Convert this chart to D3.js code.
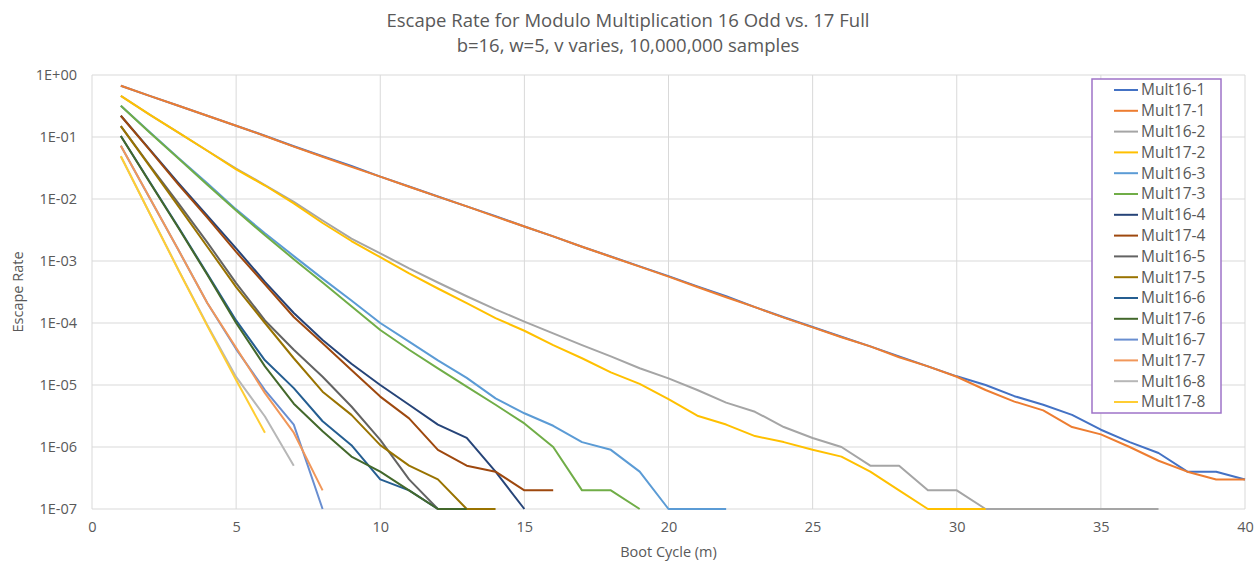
<!DOCTYPE html>
<html>
<head>
<meta charset="utf-8">
<script src="https://cdn.jsdelivr.net/npm/d3@7"></script>
<style>
  body { margin: 0; background: #fff; }
  text { font-family: "Open Sans", Lato, sans-serif; fill: #595959; }
  .grid line { stroke: #d9d9d9; stroke-width: 1; }
  .line { fill: none; stroke-width: 2; stroke-linejoin: round; }
</style>
</head>
<body>
<svg width="1255" height="563"></svg>
<script>
// boot cycle m starts at 1 for every series
var mult16_1 = [0.67, 0.46, 0.32, 0.22, 0.152, 0.105, 0.071, 0.049, 0.034, 0.023, 0.0159, 0.011, 0.0076, 0.0053, 0.0036,
  0.0025, 0.0017, 0.00118, 0.00082, 0.00057, 0.00039, 0.00027, 0.00018, 0.000124, 0.000086, 0.00006, 0.000042, 0.000029,
  0.00002, 0.0000138, 0.00001, 0.0000066, 0.0000048, 0.0000033, 0.0000019, 0.0000012, 0.0000008, 0.0000004, 0.0000004, 0.0000003];
var mult17_1 = [0.67, 0.46, 0.32, 0.22, 0.152, 0.104, 0.07, 0.048, 0.033, 0.023, 0.0158, 0.0109, 0.0076, 0.0052, 0.0036,
  0.0025, 0.0017, 0.00117, 0.00081, 0.00056, 0.00038, 0.00026, 0.00018, 0.000122, 0.000085, 0.000059, 0.000042, 0.000028,
  0.00002, 0.0000136, 0.0000083, 0.0000054, 0.0000039, 0.0000021, 0.0000016, 0.000001, 0.0000006, 0.0000004, 0.0000003, 0.0000003];
var mult16_2 = [0.46, 0.23, 0.118, 0.06, 0.031, 0.0168, 0.009, 0.0045, 0.0023, 0.00133, 0.00076, 0.00045, 0.00027, 0.000166,
  0.000105, 0.000068, 0.000044, 0.000029, 0.0000186, 0.0000128, 0.0000083, 0.0000052, 0.0000037, 0.0000021, 0.0000014,
  0.000001, 0.0000005, 0.0000005, 0.0000002, 0.0000002, 1e-7, 1e-7, 1e-7, 1e-7, 1e-7, 1e-7, 1e-7];
var mult17_2 = [0.46, 0.23, 0.118, 0.06, 0.03, 0.0165, 0.0085, 0.0041, 0.0021, 0.00115, 0.00063, 0.00036, 0.00021, 0.00012,
  0.000075, 0.000044, 0.000027, 0.000016, 0.0000104, 0.0000059, 0.0000032, 0.0000023, 0.0000015, 0.0000012, 0.0000009,
  0.0000007, 0.0000004, 0.0000002, 1e-7, 1e-7, 1e-7];
var mult16_3 = [0.32, 0.12, 0.046, 0.018, 0.0068, 0.0028, 0.0012, 0.00052, 0.00023, 0.0001, 0.00005, 0.000025, 0.000013,
  0.0000061, 0.0000035, 0.0000022, 0.0000012, 0.0000009, 0.0000004, 1e-7, 1e-7, 1e-7];
var mult17_3 = [0.32, 0.118, 0.045, 0.017, 0.0065, 0.0026, 0.00107, 0.00045, 0.000186, 0.000077, 0.000037, 0.0000186,
  0.0000094, 0.0000048, 0.0000024, 0.000001, 0.0000002, 0.0000002, 1e-7];
var mult16_4 = [0.22, 0.063, 0.018, 0.0054, 0.0016, 0.00046, 0.000145, 0.000053, 0.000022, 0.00001, 0.0000048, 0.0000023,
  0.0000014, 0.0000004, 1e-7];
var mult17_4 = [0.22, 0.062, 0.017, 0.005, 0.0014, 0.00042, 0.000125, 0.000047, 0.0000174, 0.0000065, 0.0000029, 0.0000009,
  0.0000005, 0.0000004, 0.0000002, 0.0000002];
var mult16_5 = [0.15, 0.035, 0.0085, 0.002, 0.00044, 0.00011, 0.000037, 0.0000136, 0.0000045, 0.0000013, 0.0000003, 1e-7];
var mult17_5 = [0.15, 0.034, 0.0076, 0.0017, 0.00038, 0.0001, 0.000027, 0.0000078, 0.0000033, 0.00000107, 0.0000005,
  0.0000003, 1e-7, 1e-7];
var mult16_6 = [0.104, 0.019, 0.0035, 0.00062, 0.00011, 0.000025, 0.0000089, 0.0000026, 0.00000107, 0.0000003, 0.0000002, 1e-7];
var mult17_6 = [0.104, 0.0186, 0.0034, 0.0006, 0.0001, 0.00002, 0.000005, 0.0000018, 0.0000007, 0.0000004, 0.0000002, 1e-7, 1e-7];
var mult16_7 = [0.072, 0.0104, 0.0015, 0.00021, 0.000038, 0.0000083, 0.0000023, 1e-7];
var mult17_7 = [0.072, 0.0105, 0.0015, 0.00021, 0.00004, 0.0000074, 0.0000017, 0.0000002];
var mult16_8 = [0.049, 0.0059, 0.00072, 0.000093, 0.0000135, 0.0000031, 0.0000005];
var mult17_8 = [0.049, 0.0059, 0.00071, 0.00009, 0.000012, 0.0000017];

var seriesNames = ["Mult16-1", "Mult17-1", "Mult16-2", "Mult17-2", "Mult16-3", "Mult17-3", "Mult16-4", "Mult17-4",
  "Mult16-5", "Mult17-5", "Mult16-6", "Mult17-6", "Mult16-7", "Mult17-7", "Mult16-8", "Mult17-8"];
var seriesValues = [mult16_1, mult17_1, mult16_2, mult17_2, mult16_3, mult17_3, mult16_4, mult17_4,
  mult16_5, mult17_5, mult16_6, mult17_6, mult16_7, mult17_7, mult16_8, mult17_8];
var colors = ["#4472c4", "#ed7d31", "#a5a5a5", "#ffc000", "#5b9bd5", "#70ad47", "#264478", "#9e480e",
  "#636363", "#997300", "#255e91", "#43682b", "#698ed0", "#f1975a", "#b7b7b7", "#ffcd33"];
var xTicks = [0, 5, 10, 15, 20, 25, 30, 35, 40];
var yTicks = [1, 1e-1, 1e-2, 1e-3, 1e-4, 1e-5, 1e-6, 1e-7];

var svg = d3.select("svg"),
  margin = {top: 75, right: 10, bottom: 54, left: 92},
  width = +svg.attr("width") - margin.left - margin.right,
  height = +svg.attr("height") - margin.top - margin.bottom,
  g = svg.append("g").attr("transform", "translate(" + margin.left + "," + margin.top + ")");

var x = d3.scaleLinear().domain([0, 40]).range([0, width]);
var y = d3.scaleLog().domain([1e-7, 1]).range([height, 0]);

// gridlines
g.append("g").attr("class", "grid")
  .selectAll("line").data(xTicks).enter().append("line")
  .attr("x1", function(d) { return x(d); }).attr("x2", function(d) { return x(d); })
  .attr("y1", 0).attr("y2", height);
g.append("g").attr("class", "grid")
  .selectAll("line").data(yTicks).enter().append("line")
  .attr("x1", 0).attr("x2", width)
  .attr("y1", function(d) { return y(d); }).attr("y2", function(d) { return y(d); });

// axes, tick labels only
var fmt = function(d) {
  var e = Math.round(Math.log10(d));
  return "1E" + (e < 0 ? "-" : "+") + d3.format("02d")(Math.abs(e));
};
var xAxis = g.append("g").attr("transform", "translate(0," + height + ")")
  .call(d3.axisBottom(x).tickValues(xTicks).tickSize(0).tickPadding(13));
var yAxis = g.append("g")
  .call(d3.axisLeft(y).tickValues(yTicks).tickFormat(fmt).tickSize(0).tickPadding(15));
[xAxis, yAxis].forEach(function(a) {
  a.select(".domain").remove();
  a.selectAll("text").style("font-size", "14.5px").attr("fill", "#595959");
});

var line = d3.line()
  .x(function(d, i) { return x(i + 1); })
  .y(function(d) { return y(d); });

g.selectAll(".line")
  .data(seriesValues)
  .enter().append("path")
  .attr("class", "line")
  .attr("d", line)
  .style("stroke", function(d, i) { return colors[i]; });

// titles
svg.append("text").attr("x", 628).attr("y", 27).attr("text-anchor", "middle")
  .style("font-size", "18.5px").text("Escape Rate for Modulo Multiplication 16 Odd vs. 17 Full");
svg.append("text").attr("x", 628).attr("y", 52).attr("text-anchor", "middle")
  .style("font-size", "18.5px").text("b=16, w=5, v varies, 10,000,000 samples");
svg.append("text").attr("x", margin.left + width / 2).attr("y", 557).attr("text-anchor", "middle")
  .style("font-size", "14.5px").text("Boot Cycle (m)");
svg.append("text").attr("transform", "translate(23," + (margin.top + height / 2) + ") rotate(-90)")
  .attr("text-anchor", "middle").style("font-size", "14.5px").text("Escape Rate");

// legend
var legend = svg.append("g").attr("transform", "translate(1092,79)");
legend.append("rect").attr("width", 129).attr("height", 334)
  .attr("fill", "#fff").attr("stroke", "#9e73c8").attr("stroke-width", 1.5);
var item = legend.selectAll(".item")
  .data(seriesNames)
  .enter().append("g")
  .attr("class", "item")
  .attr("transform", function(d, i) { return "translate(0," + (11 + i * 20.8) + ")"; });
item.append("line").attr("x1", 22).attr("x2", 46)
  .attr("stroke", function(d, i) { return colors[i]; }).attr("stroke-width", 2);
item.append("text").attr("x", 49).attr("dy", "0.35em")
  .style("font-size", "15.5px").text(function(d) { return d; });
</script>
</body>
</html>
